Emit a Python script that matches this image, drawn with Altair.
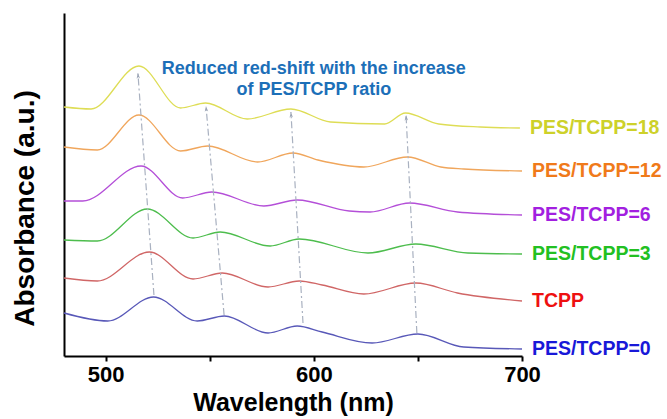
import math
import altair as alt
import pandas as pd

# ---------------- data ----------------
series_names = ["PES/TCPP=18", "PES/TCPP=12", "PES/TCPP=6", "PES/TCPP=3", "TCPP", "PES/TCPP=0"]

wl_18 = [480, 493, 516, 536, 548, 568, 589, 608, 634, 644, 660, 680, 699]
ab_18 = [2.49, 2.47, 2.90, 2.48, 2.53, 2.37, 2.47, 2.34, 2.32, 2.43, 2.32, 2.29, 2.28]

wl_12 = [480, 496, 516, 536, 549, 573, 590, 602, 624, 645, 661, 672, 700]
ab_12 = [2.09, 2.06, 2.41, 2.05, 2.10, 1.94, 2.03, 1.96, 1.89, 1.99, 1.89, 1.87, 1.85]

wl_6 = [480, 489, 517, 537, 551, 576, 592, 617, 627, 646, 669, 700]
ab_6 = [1.55, 1.55, 1.90, 1.58, 1.64, 1.50, 1.56, 1.45, 1.44, 1.53, 1.44, 1.41]

wl_3 = [480, 496, 520, 542, 555, 579, 593, 626, 649, 674, 700]
ab_3 = [1.16, 1.15, 1.47, 1.18, 1.24, 1.10, 1.17, 1.03, 1.12, 1.03, 1.02]

wl_t = [480, 496, 521, 542, 556, 578, 593, 604, 624, 649, 669, 700]
ab_t = [0.78, 0.75, 1.04, 0.77, 0.83, 0.69, 0.75, 0.71, 0.62, 0.73, 0.63, 0.55]

wl_0 = [480, 501, 523, 544, 557, 578, 592, 604, 628, 650, 672, 700]
ab_0 = [0.43, 0.35, 0.59, 0.35, 0.40, 0.23, 0.30, 0.24, 0.13, 0.22, 0.09, 0.07]

line_colors = ["#dedd55", "#f0a65c", "#b44fd8", "#4dbd4d", "#d06666", "#5858b8"]
label_colors = ["#cdd12a", "#f07a1a", "#a21fe0", "#22c022", "#ee1010", "#1818d8"]

# arrows: (tip wavelength, tip absorbance) and (base wavelength, base absorbance)
arrow_tip_wl = [515.5, 548.2, 589.0, 644.3]
arrow_tip_ab = [2.83, 2.50, 2.44, 2.41]
arrow_base_wl = [523.2, 556.9, 594.8, 649.5]
arrow_base_ab = [0.61, 0.41, 0.33, 0.23]

note_lines = ["Reduced red-shift with the increase", "of PES/TCPP ratio"]
note_wl = [600, 600]
note_ab = [2.87, 2.66]

x_ticks = [500, 550, 600, 650, 700]

# ---------------- tables ----------------
W, H = 458, 343
X_DOM = [480, 700]
Y_DOM = [0, 3.43]

all_wl = [wl_18, wl_12, wl_6, wl_3, wl_t, wl_0]
all_ab = [ab_18, ab_12, ab_6, ab_3, ab_t, ab_0]
rows = []
for name, wls, abs_ in zip(series_names, all_wl, all_ab):
    for w, a in zip(wls, abs_):
        rows.append({"series": name, "wl": w, "ab": a})
curves = pd.DataFrame(rows)

ends = pd.DataFrame({
    "series": series_names,
    "wl": [w[-1] for w in all_wl],
    "ab": [a[-1] for a in all_ab],
})

px_per_nm = W / (X_DOM[1] - X_DOM[0])
px_per_ab = H / (Y_DOM[1] - Y_DOM[0])
angles = []
for tx, ty, bx, by in zip(arrow_tip_wl, arrow_tip_ab, arrow_base_wl, arrow_base_ab):
    dx = (tx - bx) * px_per_nm
    dy = (ty - by) * px_per_ab
    ang = math.degrees(math.atan2(dx, dy))
    angles.append(ang % 360)
arrows = pd.DataFrame({
    "tx": arrow_tip_wl, "ty": arrow_tip_ab,
    "bx": arrow_base_wl, "by": arrow_base_ab, "ang": angles,
})

notes = pd.DataFrame({"text": note_lines, "wl": note_wl, "ab": note_ab})

FONT = "Liberation Sans"

xscale = alt.Scale(domain=X_DOM, nice=False, zero=False)
yscale = alt.Scale(domain=Y_DOM, nice=False, zero=False)
cscale_line = alt.Scale(domain=series_names, range=line_colors)
cscale_lab = alt.Scale(domain=series_names, range=label_colors)

xaxis = alt.Axis(
    values=x_ticks,
    labelExpr="datum.value % 100 == 0 ? datum.label : ''",
    title="Wavelength (nm)",
    grid=False,
    domainColor="black", domainWidth=2,
    tickColor="black", tickWidth=2, tickSize=5,
    labelFont=FONT, labelFontWeight="bold", labelFontSize=22, labelColor="black",
    labelPadding=3, labelFlush=False,
    titleFont=FONT, titleFontWeight="bold", titleFontSize=25, titleColor="black",
    titlePadding=5,
)
yaxis = alt.Axis(
    title="Absorbance (a.u.)",
    ticks=False, labels=False, grid=False,
    domainColor="black", domainWidth=2,
    titleFont=FONT, titleFontWeight="bold", titleFontSize=28, titleColor="black",
    titleAngle=270, titleAlign="center", titleBaseline="middle",
    titleX=-39, titleY=195,
)

base = alt.Chart(curves)

lines = base.mark_line(strokeWidth=1.3, interpolate="monotone").encode(
    x=alt.X("wl:Q", scale=xscale, axis=xaxis),
    y=alt.Y("ab:Q", scale=yscale, axis=yaxis),
    color=alt.Color("series:N", scale=cscale_line, legend=None),
    detail="series:N",
)

arrow_lines = alt.Chart(arrows).mark_rule(
    color="#a9b1c0", strokeWidth=1.2, strokeDash=[7, 3, 2, 3]
).encode(
    x=alt.X("bx:Q", scale=xscale), y=alt.Y("by:Q", scale=yscale),
    x2="tx:Q", y2="ty:Q",
)

arrow_heads = alt.Chart(arrows).mark_point(
    shape="M0,0 L0.55,1.8 L0,1.3 L-0.55,1.8 Z",
    filled=True, color="#9aa3b4", size=40, opacity=1,
).encode(
    x=alt.X("tx:Q", scale=xscale), y=alt.Y("ty:Q", scale=yscale),
    angle=alt.Angle("ang:Q", scale=None),
)

labels = alt.Chart(ends).mark_text(
    align="left", baseline="middle", dx=10, font=FONT, fontWeight="bold", fontSize=19.5,
).encode(
    x=alt.X("wl:Q", scale=xscale), y=alt.Y("ab:Q", scale=yscale),
    text="series:N",
    color=alt.Color("series:N", scale=cscale_lab, legend=None),
)

note = alt.Chart(notes).mark_text(
    align="center", baseline="middle", font=FONT, fontWeight="bold", fontSize=18,
    color="#1c6fb8",
).encode(
    x=alt.X("wl:Q", scale=xscale), y=alt.Y("ab:Q", scale=yscale),
    text="text:N",
)

chart = alt.layer(lines, arrow_lines, arrow_heads, labels, note).properties(
    width=W, height=H,
    autosize=alt.AutoSizeParams(type="none"),
    padding={"left": 64, "top": 13, "right": 145, "bottom": 63},
    background="white",
).configure_view(stroke=None).resolve_scale(color="independent")

chart.save("out.html", embed_options={"renderer": "svg", "actions": False})
